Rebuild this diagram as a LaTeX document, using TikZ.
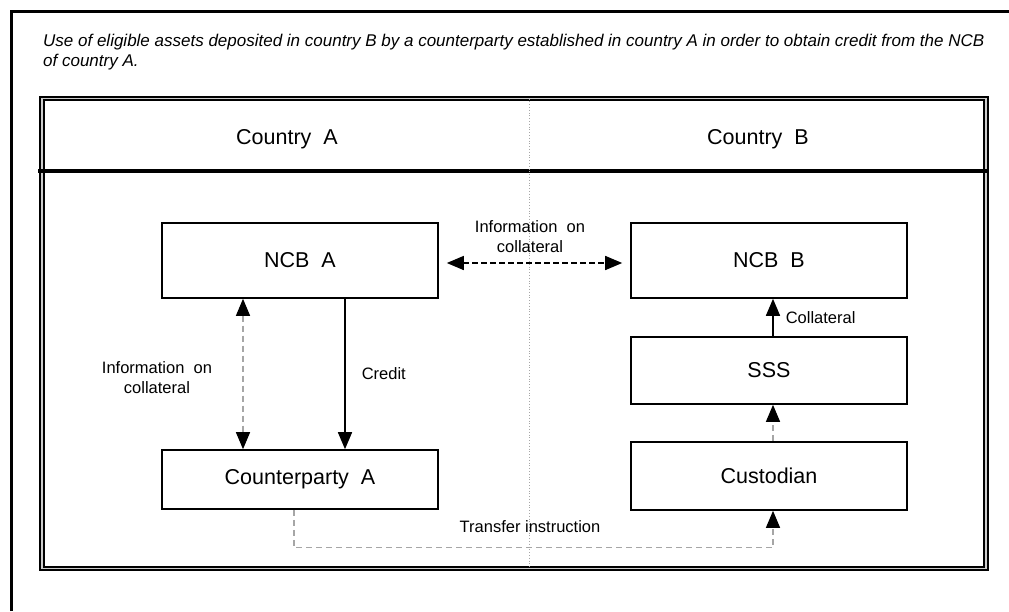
\documentclass[tikz,border=0pt]{standalone}
\usepackage{fontspec}
\setmainfont{Liberation Sans}
\usetikzlibrary{positioning}
\usetikzlibrary{arrows.meta}
\newcommand{\boxfont}{\fontsize{21.5}{24}\selectfont}
\newcommand{\lblfont}{\fontsize{16.5}{20}\selectfont}
\newcommand{\headfont}{\fontsize{17}{20}\selectfont\itshape}

\begin{document}
\begin{tikzpicture}[x=1pt,y=-1pt,node distance=10pt,on grid,
		>={Triangle[length=17pt,width=14pt,color=black]},
		party/.style={rectangle,draw=black,line width=1.6pt,minimum width=276pt,font=\boxfont},
		lbl/.style={font=\lblfont,align=center,inner sep=0pt},
		infoline/.style={dash pattern=on 6pt off 3pt,line width=1.5pt},
		greyline/.style={draw=gray!70,dash pattern=on 6pt off 4pt,line width=1.2pt}]
		\useasboundingbox (0,0) rectangle (1009,611);
		
		% frames
		\draw[line width=3pt] (11.5,611) -- (11.5,11.5) -- (1009,11.5);
		\draw[line width=2pt,double=gray!40,double distance=1.5pt] (42,98.5) rectangle (986,568.5);
		\draw[line width=4pt] (38,171) -- (988,171);
		\draw[gray!70,dotted,line width=0.8pt] (529,98.5) -- (529,568.5);
		
		\node[anchor=north west,align=left,inner sep=0pt,font=\headfont] (title) at (43,34)
			{Use of eligible assets deposited in country B by a counterparty established in country A in order to obtain credit from the NCB\\of country A.};
		\node[font=\boxfont] (ctya) at (287,139) {Country~~A};
		\node[font=\boxfont] (ctyb) at (758,139) {Country~~B};
		
		\node[party,minimum height=75pt]  (ncba)                       at (300,260.5) {NCB~~A};
		\node[party,minimum height=75pt]  (ncbb) [right=469pt of ncba]                {NCB~~B};
		\node[party,minimum height=67pt]  (sss)  [below=110pt of ncbb]                {SSS};
		\node[party,minimum height=68pt]  (cust) [below=105.5pt of sss]               {Custodian};
		\node[party,minimum height=59pt]  (cpa)  [below=219pt of ncba]                {Counterparty~~A};
		
		\draw[infoline,<->] ([xshift=8pt,yshift=-2.5pt]ncba.east) -- ([xshift=-8pt,yshift=-2.5pt]ncbb.west);
		\node[lbl] (infotop) at (530,237) {Information~~on\\collateral};
		
		\draw[greyline,<->] ([xshift=-57pt]ncba.south) -- ([xshift=-57pt]cpa.north);
		\node[lbl] (infoleft) at (157,378) {Information~~on\\collateral};
		
		\draw[line width=1.6pt,->] ([xshift=45pt]ncba.south) -- node[lbl,right=16pt] (credit) {Credit} ([xshift=45pt]cpa.north);
		
		\draw[line width=1.6pt,->] ([xshift=4pt]sss.north) -- node[lbl,right=12pt] (coll) {Collateral} ([xshift=4pt]ncbb.south);
		\draw[greyline,->] ([xshift=4pt]cust.north) -- ([xshift=4pt]sss.south);
		
		\draw[greyline,->] ([xshift=-6pt]cpa.south) -- ++(0,38) -| ([xshift=4pt]cust.south);
		\node[lbl] (transfer) at (530,527) {Transfer instruction};
\end{tikzpicture}
\end{document}
